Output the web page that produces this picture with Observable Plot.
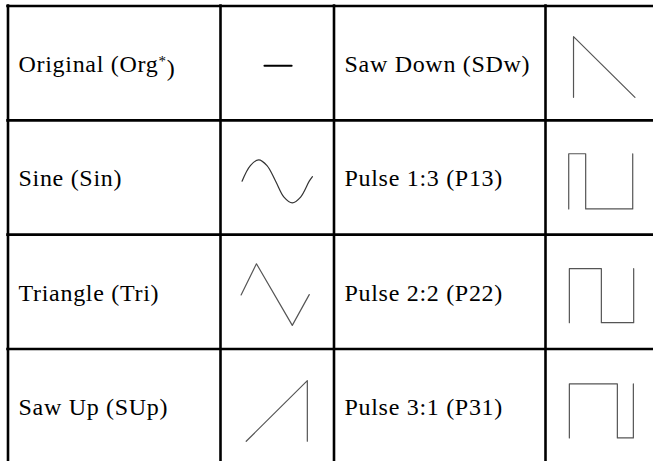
<!DOCTYPE html>
<html>
<head>
<meta charset="utf-8">
<script src="https://cdn.jsdelivr.net/npm/d3@7"></script>
<script src="https://cdn.jsdelivr.net/npm/@observablehq/plot@0.6"></script>
<style>
  html, body { margin: 0; padding: 0; background: #fff; }
  #chart svg text { letter-spacing: 0.7px; }
</style>
</head>
<body>
<div id="chart"></div>
<script>
// ---- Data ----
// Waveform names, laid out as 4 rows x 2 column-pairs
const leftNames  = ["Original (Org*)", "Sine (Sin)", "Triangle (Tri)", "Saw Up (SUp)"];
const rightNames = ["Saw Down (SDw)", "Pulse 1:3 (P13)", "Pulse 2:2 (P22)", "Pulse 3:1 (P31)"];

// Waveform icon shapes: [t, v] points, t = horizontal (about -1..1), v = level (about -1..1, up positive)
const shapeOrg  = [[-0.40, 0.05], [0.45, 0.05]];
const shapeSin  = [[-1.10, 0.01], [-0.84, 0.52], [-0.58, 0.71], [-0.32, 0.52], [-0.05, 0.01],
                   [0.21, -0.51], [0.47, -0.70], [0.73, -0.51], [1.00, 0.01], [1.10, 0.16]];
const shapeTri  = [[-1.13, 0.03], [-0.65, 1.05], [0.47, -0.97], [1.00, 0.04]];
const shapeSUp  = [[-0.97, -1.02], [0.94, 0.97], [0.94, -1.02]];
const shapeSDw  = [[-0.89, -0.99], [-0.89, 1.00], [1.03, -0.99]];
const shapeP13  = [[-1.04, -0.90], [-1.04, 0.91], [-0.51, 0.91], [-0.51, -0.90], [0.96, -0.90], [0.96, 0.91]];
const shapeP22  = [[-1.02, -0.88], [-1.02, 0.89], [-0.02, 0.89], [-0.02, -0.88], [0.99, -0.88], [0.99, 0.89]];
const shapeP31  = [[-1.02, -0.91], [-1.02, 0.86], [0.48, 0.86], [0.48, -0.91], [0.98, -0.91], [0.98, 0.86]];

const leftShapes  = [shapeOrg, shapeSin, shapeTri, shapeSUp];
const rightShapes = [shapeSDw, shapeP13, shapeP22, shapeP31];

// ---- Layout ----
const W = 653, H = 461;
const colEdges = [7.5, 220, 333.5, 545, 658];
const tableTop = 5.5, rowH = 114.33;
const rowEdges = d3.range(5).map(i => tableTop + i * rowH);
const unitX = 32, unitY = 30.5, iconDy = 4;

const textRows = [];
const lines = [];
function addColumn(names, shapes, textCol, iconCol) {
  names.forEach((name, i) => {
    const cy = (rowEdges[i] + rowEdges[i + 1]) / 2;
    textRows.push({name, x: colEdges[textCol] + 10.5, y: cy + 1});
    const cx = (colEdges[iconCol] + colEdges[iconCol + 1]) / 2;
    shapes[i].forEach(([t, v]) => {
      lines.push({id: name, smooth: shapes[i] === shapeSin, org: shapes[i] === shapeOrg,
                  x: cx + t * unitX, y: cy + iconDy - v * unitY});
    });
  });
}
addColumn(leftNames, leftShapes, 0, 1);
addColumn(rightNames, rightShapes, 2, 3);

const gridStroke = {stroke: "#000", strokeWidth: 2.6, strokeLinecap: "square"};

const chart = Plot.plot({
  width: W, height: H,
  margin: 0,
  x: {domain: [0, W], range: [0, W], axis: null},
  y: {domain: [0, H], range: [0, H], axis: null},
  marks: [
    Plot.ruleX(colEdges, {x: d => d, y1: tableTop, y2: H + 10, ...gridStroke}),
    Plot.ruleY(rowEdges, {y: d => d, x1: colEdges[0], x2: W + 10, ...gridStroke}),
    Plot.line(lines.filter(d => d.org), {x: "x", y: "y", z: "id", stroke: "#000", strokeWidth: 2}),
    Plot.line(lines.filter(d => d.smooth), {x: "x", y: "y", z: "id", stroke: "#333", strokeWidth: 1.2, curve: "catmull-rom"}),
    Plot.line(lines.filter(d => !d.smooth && !d.org), {x: "x", y: "y", z: "id", stroke: "#555", strokeWidth: 1.2}),
    Plot.text(textRows, {x: "x", y: "y", text: "name", textAnchor: "start",
      fontFamily: "Liberation Serif", fontSize: 24, fill: "#000"})
  ]
});
document.getElementById("chart").appendChild(chart);

// Render the asterisk of "Org*" as superscript
chart.querySelectorAll("text").forEach(t => {
  const s = t.textContent;
  const k = s.indexOf("*");
  if (k < 0) return;
  while (t.firstChild) t.removeChild(t.firstChild);
  const ns = "http://www.w3.org/2000/svg";
  const a = document.createElementNS(ns, "tspan"); a.textContent = s.slice(0, k);
  const b = document.createElementNS(ns, "tspan"); b.textContent = "*";
  b.setAttribute("dy", "-0.42em"); b.setAttribute("font-size", "15");
  const c = document.createElementNS(ns, "tspan"); c.textContent = s.slice(k + 1);
  c.setAttribute("dy", "0.42em");
  t.append(a, b, c);
});
</script>
</body>
</html>
